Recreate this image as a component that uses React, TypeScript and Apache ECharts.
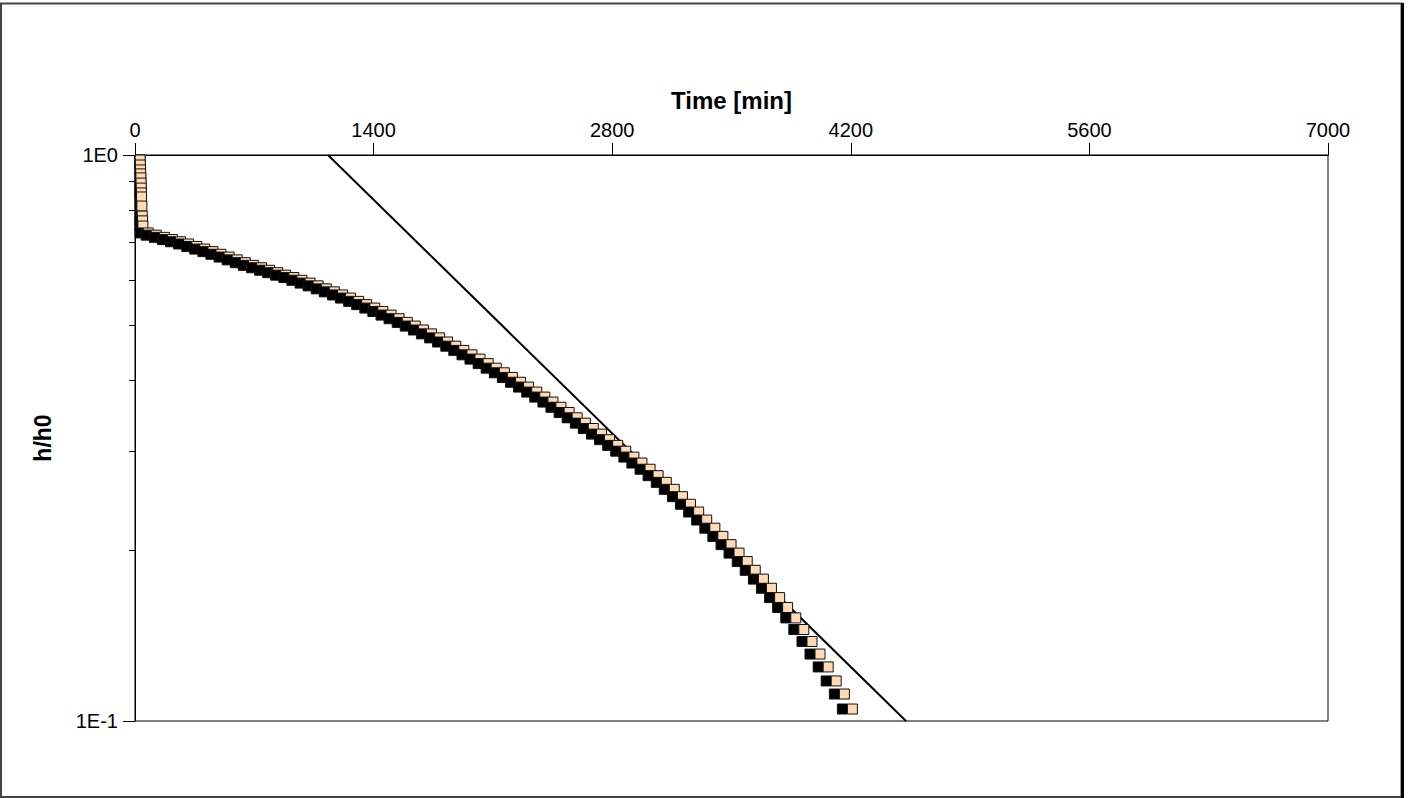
import React, { useEffect, useRef } from "react";
import * as echarts from "echarts";

// Measured head ratio h/h0 against elapsed time in minutes
const times = [
  0, 1, 2, 3, 4, 5, 6, 7, 8, 9, 11, 13, 15, 17,
  48, 95, 143, 190, 238, 285, 333, 380, 428, 475,
  523, 570, 618, 665, 713, 760, 808, 855, 903, 950,
  998, 1045, 1093, 1140, 1188, 1235, 1283, 1330, 1378, 1425,
  1473, 1520, 1568, 1615, 1663, 1710, 1758, 1805, 1853, 1900,
  1948, 1995, 2043, 2090, 2138, 2185, 2233, 2280, 2328, 2375,
  2423, 2470, 2518, 2565, 2613, 2660, 2708, 2755, 2803, 2850,
  2898, 2945, 2993, 3040, 3088, 3135, 3183, 3230, 3278, 3325,
  3373, 3420, 3468, 3515, 3563, 3610, 3658, 3705, 3753, 3800,
  3848, 3895, 3943, 3990, 4038, 4085, 4133, 4180,
];

const ratios = [
  1.0, 0.98, 0.96, 0.941, 0.926, 0.911, 0.892, 0.874, 0.857, 0.843, 0.8125, 0.78, 0.765, 0.749,
  0.7282, 0.7217, 0.7153, 0.7089, 0.7026, 0.6963, 0.6893, 0.682, 0.6749, 0.6677,
  0.6602, 0.6527, 0.6453, 0.6383, 0.6321, 0.6257, 0.6196, 0.6133, 0.6074, 0.6007,
  0.5939, 0.5872, 0.5801, 0.5731, 0.5659, 0.5588, 0.5513, 0.544, 0.5365, 0.5291,
  0.5214, 0.5138, 0.5061, 0.4986, 0.4907, 0.483, 0.4752, 0.4673, 0.4594, 0.4516,
  0.4436, 0.4359, 0.428, 0.4201, 0.4123, 0.4045, 0.3967, 0.389, 0.3812, 0.3735,
  0.366, 0.3583, 0.3508, 0.3433, 0.3359, 0.3287, 0.3213, 0.3141, 0.3069, 0.2997,
  0.2926, 0.2856, 0.2785, 0.2713, 0.264, 0.2566, 0.2491, 0.2415, 0.234, 0.2265,
  0.2191, 0.2119, 0.2049, 0.198, 0.1913, 0.1846, 0.1781, 0.1716, 0.1652, 0.1587,
  0.1521, 0.1451, 0.1382, 0.1313, 0.1246, 0.1177, 0.1116, 0.105,
];

// Straight-line (exponential) reference fit
const fitTimes = [1132, 4524];
const fitRatios = [1, 0.1];

// Axis ticks
const xTicks = [0, 1400, 2800, 4200, 5600, 7000];
const yMajorTicks = [0.1, 1];
const yMinorTicks = [0.2, 0.3, 0.4, 0.5, 0.6, 0.7, 0.8, 0.9];

const FONT = "'Liberation Sans', Arial, Helvetica, sans-serif";
const PEACH = "#FFDAB4";

type Rect = { x: number; y: number; width: number; height: number };

function clipRect(r: Rect, c: Rect): Rect | null {
  const x1 = Math.max(r.x, c.x);
  const y1 = Math.max(r.y, c.y);
  const x2 = Math.min(r.x + r.width, c.x + c.width);
  const y2 = Math.min(r.y + r.height, c.y + c.height);
  if (x2 <= x1 || y2 <= y1) return null;
  return { x: x1, y: y1, width: x2 - x1, height: y2 - y1 };
}

export default function App() {
  const ref = useRef<HTMLDivElement>(null);

  useEffect(() => {
    if (!ref.current) return;
    const chart = echarts.init(ref.current, null, { renderer: "svg" });

    const points = times.map((t, i) => [t, ratios[i]]);
    const fit = fitTimes.map((t, i) => [t, fitRatios[i]]);

    // Each reading: a dark square to the left and a peach square to the right
    const renderItem = (params: any, api: any) => {
      const p = api.coord([api.value(0), api.value(1)]);
      const cs = params.coordSys;
      const area = { x: cs.x, y: cs.y, width: cs.width, height: cs.height };
      const s = 10;
      const dark = clipRect({ x: p[0] - s, y: p[1] - s / 2, width: s, height: s }, area);
      const light = clipRect({ x: p[0], y: p[1] - s / 2, width: s, height: s }, area);
      const children: any[] = [];
      if (dark) {
        children.push({
          type: "rect",
          shape: dark,
          style: { fill: "#000", stroke: "#111", lineWidth: 1 },
        });
      }
      if (light) {
        children.push({
          type: "rect",
          shape: light,
          style: { fill: PEACH, stroke: "#111", lineWidth: 1 },
        });
      }
      return { type: "group", children };
    };

    const yBase = {
      type: "log",
      logBase: 10,
      min: 0.1,
      max: 1,
      position: "left",
      splitLine: { show: false },
      minorTick: { show: false },
    };

    chart.setOption({
      animation: false,
      backgroundColor: "#fff",
      textStyle: { fontFamily: FONT },
      grid: {
        left: 135,
        top: 155,
        width: 1193,
        height: 566,
        show: true,
        borderColor: "#000",
        borderWidth: 1,
        backgroundColor: "transparent",
        containLabel: false,
      },
      xAxis: {
        type: "value",
        position: "top",
        min: xTicks[0],
        max: xTicks[xTicks.length - 1],
        interval: xTicks[1] - xTicks[0],
        name: "Time [min]",
        nameLocation: "middle",
        nameGap: 43,
        nameTextStyle: { fontFamily: FONT, fontWeight: "bold", fontSize: 24, color: "#000" },
        axisLine: { show: true, lineStyle: { color: "#000", width: 1 } },
        axisTick: { show: true, inside: false, length: 12, lineStyle: { color: "#000", width: 1 } },
        axisLabel: {
          fontFamily: FONT,
          fontSize: 20,
          color: "#000",
          margin: 15,
          formatter: (v: number) => String(v),
        },
        splitLine: { show: false },
      },
      yAxis: [
        {
          ...yBase,
          name: "h/h0",
          nameLocation: "middle",
          nameGap: 81,
          nameRotate: 90,
          nameTextStyle: { fontFamily: FONT, fontWeight: "bold", fontSize: 23, color: "#000" },
          axisLine: { show: true, lineStyle: { color: "#000", width: 1 } },
          axisTick: {
            show: true,
            inside: false,
            length: 12,
            customValues: yMajorTicks,
            lineStyle: { color: "#000", width: 1 },
          },
          axisLabel: {
            fontFamily: FONT,
            fontSize: 20,
            color: "#000",
            margin: 17,
            customValues: yMajorTicks,
            formatter: (v: number) => "1E" + Math.round(Math.log10(v)),
          },
        },
        {
          ...yBase,
          axisLine: { show: false },
          axisTick: {
            show: true,
            inside: false,
            length: 6,
            customValues: yMinorTicks,
            lineStyle: { color: "#000", width: 1 },
          },
          axisLabel: { show: false },
        },
      ],
      series: [
        {
          type: "line",
          data: fit,
          xAxisIndex: 0,
          yAxisIndex: 0,
          symbol: "none",
          lineStyle: { color: "#000", width: 2 },
          z: 2,
          silent: true,
        },
        {
          type: "custom",
          data: points,
          xAxisIndex: 0,
          yAxisIndex: 0,
          renderItem,
          z: 3,
          silent: true,
        },
      ],
      graphic: [
        {
          type: "rect",
          shape: { x: 1, y: 3.5, width: 1400.5, height: 793.5 },
          style: { fill: "none", stroke: "#444", lineWidth: 2 },
          z: 10,
          silent: true,
        },
        {
          type: "line",
          shape: { x1: 1402.5, y1: 3, x2: 1402.5, y2: 798 },
          style: { stroke: "#000", lineWidth: 3 },
          z: 11,
          silent: true,
        },
      ],
    });

    return () => chart.dispose();
  }, []);

  return (
    <div
      ref={ref}
      style={{ position: "fixed", left: 0, top: 0, width: 1408, height: 798, background: "#fff" }}
    />
  );
}
